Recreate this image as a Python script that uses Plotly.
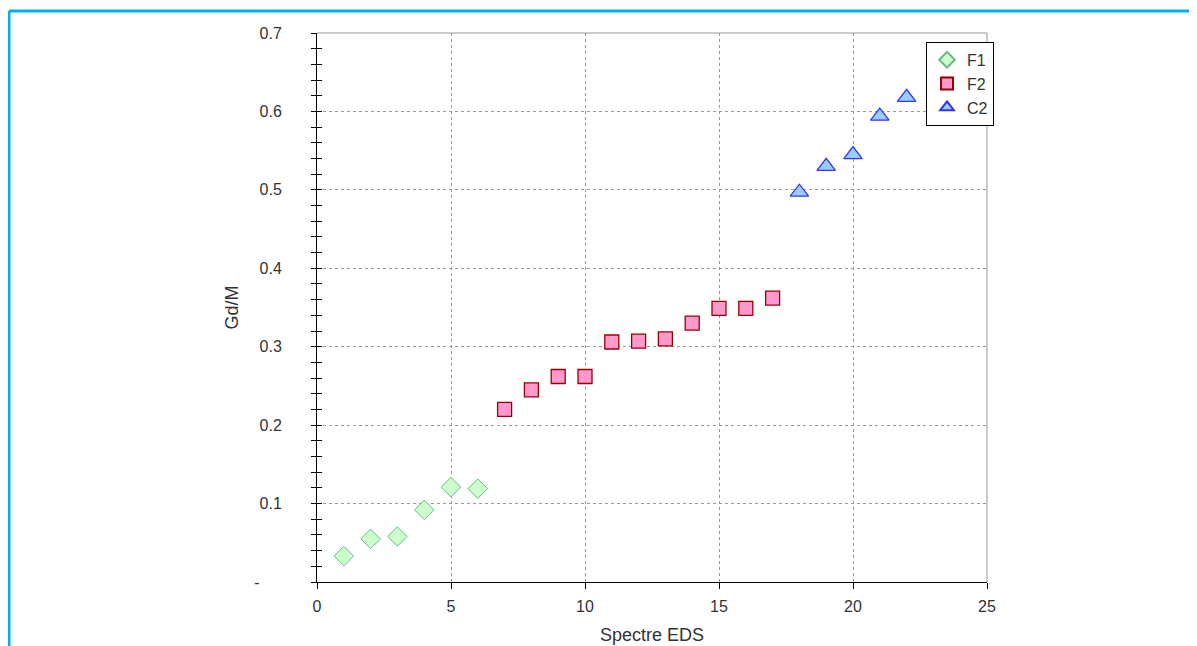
import plotly.graph_objects as go

f1_x = [1, 2, 3, 4, 5, 6]
f1_y = [0.033, 0.055, 0.058, 0.092, 0.121, 0.119]
f2_x = [7, 8, 9, 10, 11, 12, 13, 14, 15, 16, 17]
f2_y = [0.220, 0.245, 0.262, 0.262, 0.306, 0.307, 0.310, 0.330, 0.349, 0.349, 0.362]
c2_x = [18, 19, 20, 21, 22]
c2_y = [0.497, 0.530, 0.545, 0.594, 0.618]

y_tickvals = [0, 0.1, 0.2, 0.3, 0.4, 0.5, 0.6, 0.7]
y_ticktext = ["-\u00a0\u00a0\u00a0\u00a0\u00a0", "0.1", "0.2", "0.3", "0.4", "0.5", "0.6", "0.7"]
x_tickvals = [0, 5, 10, 15, 20, 25]

FONT = "Arial, Liberation Sans, sans-serif"
TXT = "#333333"

fig = go.Figure()
fig.add_trace(go.Scatter(x=f1_x, y=f1_y, mode="markers", name="F1",
                         marker=dict(symbol="diamond", size=15, color="#CCFFCC",
                                     line=dict(color="#66BB88", width=1))))
fig.add_trace(go.Scatter(x=f2_x, y=f2_y, mode="markers", name="F2",
                         marker=dict(symbol="square", size=14, color="#FF99CC",
                                     line=dict(color="#990000", width=1.3))))
fig.add_trace(go.Scatter(x=c2_x, y=c2_y, mode="markers", name="C2",
                         marker=dict(symbol="triangle-up", size=16, color="#99CCFF",
                                     line=dict(color="#3333FF", width=1.3))))

GRID = dict(showgrid=True, gridcolor="#999999", griddash="3px,3px", gridwidth=1)

fig.update_layout(
    width=1197, height=646,
    margin=dict(l=309, r=218, t=25, b=67),
    paper_bgcolor="white", plot_bgcolor="white",
    font=dict(family=FONT, size=15, color=TXT),
    showlegend=True,
    legend=dict(x=0.909, y=0.984, xanchor="left", yanchor="top",
                bgcolor="white", bordercolor="black", borderwidth=1,
                font=dict(family=FONT, size=16, color=TXT),
                itemwidth=30, itemsizing="constant", tracegroupgap=0),
    xaxis=dict(range=[0, 25], tickvals=x_tickvals, ticks="outside", ticklen=6,
               tickcolor="black", showline=True, linecolor="black", linewidth=1,
               zeroline=False, title=dict(text="Spectre EDS", standoff=14),
               ticklabelstandoff=4,
               tickfont=dict(size=16, color=TXT), **GRID),
    yaxis=dict(range=[0, 0.7], tickvals=y_tickvals, ticktext=y_ticktext,
               ticks="outside", ticklen=5, tickcolor="black",
               minor=dict(dtick=0.02, ticks="outside", ticklen=5, tickcolor="black", showgrid=False),
               showline=True, linecolor="black", linewidth=1,
               zeroline=False, ticklabelstandoff=26,
               title=dict(text="Gd/M", standoff=10),
               tickfont=dict(size=16, color=TXT), **GRID),
    yaxis2=dict(range=[0, 0.7], overlaying="y", side="left", tickvals=y_tickvals,
                ticks="inside", ticklen=5, tickcolor="black", showticklabels=False,
                minor=dict(dtick=0.02, ticks="inside", ticklen=5, tickcolor="black", showgrid=False),
                showgrid=False, zeroline=False, showline=False),
)
# dummy trace to activate yaxis2
fig.add_trace(go.Scatter(x=[None], y=[None], yaxis="y2", showlegend=False, hoverinfo="skip"))

# plot area top/right gray border
fig.add_shape(type="line", xref="paper", yref="paper", x0=0, x1=1, y0=1, y1=1,
              line=dict(color="#999999", width=1))
fig.add_shape(type="line", xref="paper", yref="paper", x0=1, x1=1, y0=0, y1=1,
              line=dict(color="#999999", width=1))
# outer light-blue frame
fig.add_shape(type="line", xref="paper", yref="paper", x0=-0.4597, x1=1.4, y0=1.0402, y1=1.0402,
              line=dict(color="#00B0F0", width=3))
fig.add_shape(type="line", xref="paper", yref="paper", x0=-0.4597, x1=-0.4597, y0=-0.2, y1=1.0402,
              line=dict(color="#00B0F0", width=3))

fig.write_html("out.html")
